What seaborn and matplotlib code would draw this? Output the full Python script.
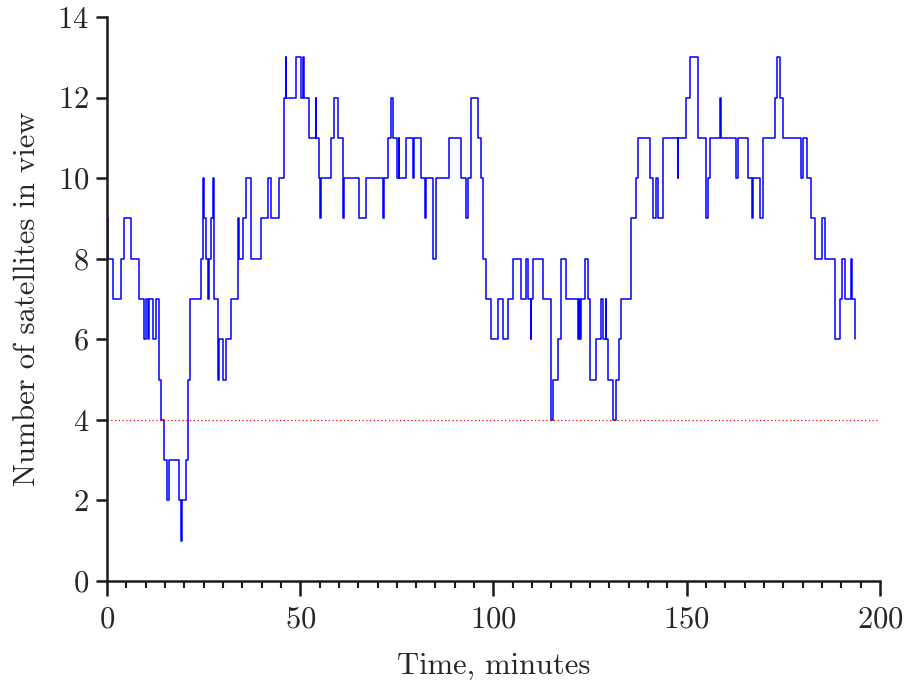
import matplotlib
matplotlib.use("Agg")
import matplotlib.pyplot as plt
from matplotlib.ticker import MultipleLocator
import seaborn as sns
import pandas as pd

# change points: time (minutes) and satellites in view from that moment on
time_min = [
    0.0, 0.3, 1.6, 3.6, 4.4, 6.2, 8.4, 9.6, 10.1, 10.7, 10.9, 12.0, 12.8, 13.5,
    14.1, 14.7, 15.4, 16.0, 18.6, 19.15, 19.3, 20.4, 21.0, 21.6, 24.3, 24.9,
    25.1, 25.6, 26.2, 26.4, 26.9, 27.5, 27.7, 27.8, 28.8, 29.0, 30.1, 30.8,
    32.1, 34.0, 34.15, 35.3, 35.9, 37.3, 39.8, 41.7, 42.4, 44.5, 45.8, 46.2,
    46.35, 48.9, 50.1, 50.7, 50.85, 52.2, 54.0, 54.15, 54.9, 55.2, 55.35, 57.9,
    58.7, 59.9, 61.1, 61.25, 65.1, 67.0, 71.4, 71.55, 72.8, 73.5, 74.1, 75.0,
    75.5, 75.65, 77.4, 79.2, 79.35, 81.2, 82.4, 82.55, 84.3, 85.1, 88.4, 91.5,
    92.9, 93.5, 94.1, 96.1, 96.8, 97.4, 98.1, 99.4, 101.2, 102.4, 103.8, 105.1,
    107.0, 108.3, 109.0, 109.6, 109.75, 110.3, 112.9, 114.8, 115.5, 116.7,
    117.5, 118.7, 121.9, 122.2, 122.4, 122.6, 123.8, 124.5, 125.1, 126.5,
    127.7, 128.3, 129.0, 129.15, 129.7, 131.0, 131.6, 132.5, 133.0, 135.5,
    136.9, 137.5, 140.6, 141.2, 142.0, 142.7, 143.9, 147.7, 147.85, 149.9,
    150.9, 152.9, 155.0, 155.6, 156.1, 158.7, 158.85, 162.7, 163.2, 165.8,
    167.0, 167.15, 169.1, 169.8, 172.8, 173.5, 174.2, 175.0, 179.5, 180.2,
    181.2, 182.1, 183.2, 185.1, 185.8, 188.4, 189.6, 190.3, 190.9, 192.4,
    192.9, 193.5,
]
n_sats = [
    9, 8, 7, 8, 9, 8, 7, 6, 7, 6, 7, 6, 7, 5,
    4, 3, 2, 3, 2, 1, 2, 3, 5, 7, 8, 10,
    9, 8, 7, 8, 9, 10, 8, 7, 5, 6, 5, 6,
    7, 9, 8, 9, 10, 8, 9, 10, 9, 10, 12, 13,
    12, 13, 12, 13, 12, 11, 12, 11, 10, 9, 10, 11,
    12, 11, 9, 10, 9, 10, 9, 10, 11, 12, 11, 10,
    11, 10, 11, 10, 11, 10, 9, 10, 8, 10, 11, 10,
    9, 10, 12, 11, 10, 8, 7, 6, 7, 6, 7, 8,
    7, 8, 7, 6, 7, 8, 7, 4, 5, 6,
    8, 7, 6, 7, 6, 7, 8, 7, 5, 6,
    7, 6, 7, 6, 5, 4, 5, 6, 7, 9,
    10, 11, 10, 9, 10, 9, 11, 10, 11, 12,
    13, 11, 9, 10, 11, 12, 11, 10, 11, 10,
    9, 10, 9, 11, 12, 13, 12, 11, 10, 11,
    10, 9, 8, 9, 8, 6, 7, 8, 7, 8,
    7, 6,
]
min_visible = 4

sns.set_style("ticks")
plt.rcParams["font.family"] = ["cmr10", "DejaVu Serif"]
plt.rcParams["axes.formatter.use_mathtext"] = True

df = pd.DataFrame({"t": time_min, "n": n_sats})

fig = plt.figure(figsize=(9.09, 6.85), dpi=100)
ax = fig.add_axes([0.1177, 0.152, 0.8503, 0.823])

sns.lineplot(data=df, x="t", y="n", ax=ax, color="#0000ff", lw=1.1,
             drawstyle="steps-post", estimator=None, sort=False)
ax.axhline(min_visible, color="red", ls=(0, (1, 2)), lw=0.9)

ax.set_xlim(0, 200)
ax.set_ylim(0, 14)
ax.xaxis.set_major_locator(MultipleLocator(50))
ax.xaxis.set_minor_locator(MultipleLocator(5))
ax.yaxis.set_major_locator(MultipleLocator(2))

for s in ["top", "right"]:
    ax.spines[s].set_visible(False)
for s in ["left", "bottom"]:
    ax.spines[s].set_linewidth(1.8)
    ax.spines[s].set_color("#1a1a1a")

ax.tick_params(axis="both", which="major", direction="out", length=8,
               width=1.8, labelsize=22, color="#1a1a1a", pad=5)
ax.tick_params(axis="x", which="major", length=11, pad=7)
ax.tick_params(axis="x", which="minor", direction="out", length=5, width=1.5,
               color="#1a1a1a")

ax.set_xlabel("Time, minutes", fontsize=22, labelpad=14)
ax.set_ylabel("Number of satellites in view", fontsize=22, labelpad=12)

fig.savefig("out.png", dpi=100)
